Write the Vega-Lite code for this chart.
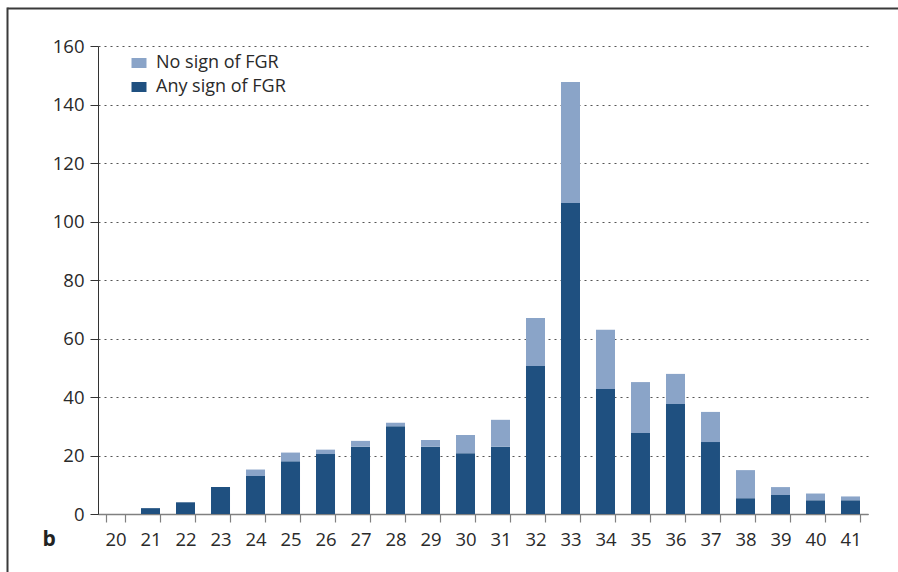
{
  "$schema": "https://vega.github.io/schema/vega-lite/v6.json",
  "width": 770,
  "height": 468,
  "autosize": {"type": "none"},
  "padding": {"left": 98, "top": 46, "right": 30, "bottom": 58},
  "background": "white",
  "config": {
    "font": "Open Sans",
    "view": {"stroke": null}
  },
  "layer": [
    {
      "data": {
        "values": [
          {"week": 21, "group": "Any sign of FGR", "n": 2},
          {"week": 22, "group": "Any sign of FGR", "n": 4},
          {"week": 23, "group": "Any sign of FGR", "n": 9.2},
          {"week": 24, "group": "Any sign of FGR", "n": 13},
          {"week": 24, "group": "No sign of FGR", "n": 2.2},
          {"week": 25, "group": "Any sign of FGR", "n": 18},
          {"week": 25, "group": "No sign of FGR", "n": 3},
          {"week": 26, "group": "Any sign of FGR", "n": 20.5},
          {"week": 26, "group": "No sign of FGR", "n": 1.5},
          {"week": 27, "group": "Any sign of FGR", "n": 23},
          {"week": 27, "group": "No sign of FGR", "n": 2},
          {"week": 28, "group": "Any sign of FGR", "n": 30},
          {"week": 28, "group": "No sign of FGR", "n": 1.2},
          {"week": 29, "group": "Any sign of FGR", "n": 23},
          {"week": 29, "group": "No sign of FGR", "n": 2.3},
          {"week": 30, "group": "Any sign of FGR", "n": 20.8},
          {"week": 30, "group": "No sign of FGR", "n": 6.2},
          {"week": 31, "group": "Any sign of FGR", "n": 23},
          {"week": 31, "group": "No sign of FGR", "n": 9.2},
          {"week": 32, "group": "Any sign of FGR", "n": 50.6},
          {"week": 32, "group": "No sign of FGR", "n": 16.4},
          {"week": 33, "group": "Any sign of FGR", "n": 106.3},
          {"week": 33, "group": "No sign of FGR", "n": 41.4},
          {"week": 34, "group": "Any sign of FGR", "n": 42.7},
          {"week": 34, "group": "No sign of FGR", "n": 20.3},
          {"week": 35, "group": "Any sign of FGR", "n": 27.7},
          {"week": 35, "group": "No sign of FGR", "n": 17.4},
          {"week": 36, "group": "Any sign of FGR", "n": 37.6},
          {"week": 36, "group": "No sign of FGR", "n": 10.3},
          {"week": 37, "group": "Any sign of FGR", "n": 24.6},
          {"week": 37, "group": "No sign of FGR", "n": 10.3},
          {"week": 38, "group": "Any sign of FGR", "n": 5.4},
          {"week": 38, "group": "No sign of FGR", "n": 9.6},
          {"week": 39, "group": "Any sign of FGR", "n": 6.5},
          {"week": 39, "group": "No sign of FGR", "n": 2.7},
          {"week": 40, "group": "Any sign of FGR", "n": 4.7},
          {"week": 40, "group": "No sign of FGR", "n": 2.3},
          {"week": 41, "group": "Any sign of FGR", "n": 4.7},
          {"week": 41, "group": "No sign of FGR", "n": 1.3}
        ]
      },
      "mark": {"type": "bar"},
      "encoding": {
        "x": {
          "field": "week",
          "type": "ordinal",
          "scale": {
            "domain": [20, 21, 22, 23, 24, 25, 26, 27, 28, 29, 30, 31, 32, 33, 34, 35, 36, 37, 38, 39, 40, 41],
            "paddingInner": 0.457,
            "paddingOuter": 0.229
          },
          "axis": {
            "title": "b",
            "titleX": -56,
            "titleY": 31,
            "titleAlign": "left",
            "titleBaseline": "alphabetic",
            "titleFontSize": 21,
            "titleFontWeight": "bold",
            "titleColor": "#222222",
            "tickBand": "extent",
            "tickSize": 8,
            "tickColor": "#808080",
            "tickWidth": 1.2,
            "domainColor": "#808080",
            "domainWidth": 1.5,
            "labelAngle": 0,
            "labelFontSize": 18.5,
            "labelColor": "#2a2a2a",
            "labelBaseline": "alphabetic",
            "labelPadding": 23,
            "grid": false
          }
        },
        "y": {
          "field": "n",
          "type": "quantitative",
          "stack": "zero",
          "scale": {"domain": [0, 160]},
          "axis": {
            "title": null,
            "values": [0, 20, 40, 60, 80, 100, 120, 140, 160],
            "tickSize": 8,
            "tickColor": "#333333",
            "domainColor": "#333333",
            "labelFontSize": 18.5,
            "labelColor": "#2a2a2a",
            "labelPadding": 6,
            "grid": true,
            "gridDash": [2, 4],
            "gridColor": "#555555",
            "gridWidth": 1
          }
        },
        "color": {
          "field": "group",
          "type": "nominal",
          "scale": {
            "domain": ["No sign of FGR", "Any sign of FGR"],
            "range": ["#8aa4c8", "#1f5080"]
          },
          "legend": {
            "title": null,
            "orient": "none",
            "legendX": 32,
            "legendY": 8,
            "padding": 0,
            "symbolType": "M-1,-0.67H1V0.67H-1Z",
            "symbolSize": 225,
            "symbolStrokeWidth": 0,
            "labelFontSize": 18,
            "labelColor": "#2a2a2a",
            "labelOffset": 8,
            "rowPadding": 6
          }
        },
        "order": {"field": "group", "sort": "ascending"}
      }
    },
    {
      "data": {"values": [{"frame": "frame"}]},
      "mark": {"type": "point", "opacity": 0},
      "encoding": {
        "x": {
          "datum": 0,
          "type": "quantitative",
          "scale": {"domain": [0, 1], "range": [-91, 900]},
          "axis": {
            "orient": "top",
            "offset": 38,
            "ticks": false,
            "labels": false,
            "grid": false,
            "title": null,
            "domainColor": "#3a3a3a",
            "domainWidth": 2
          }
        },
        "y": {
          "datum": 0,
          "type": "quantitative",
          "scale": {"domain": [0, 1], "range": [600, -39]},
          "axis": {
            "orient": "left",
            "offset": 91,
            "ticks": false,
            "labels": false,
            "grid": false,
            "title": null,
            "domainColor": "#3a3a3a",
            "domainWidth": 2
          }
        }
      }
    }
  ],
  "resolve": {"scale": {"x": "independent", "y": "independent"}}
}
